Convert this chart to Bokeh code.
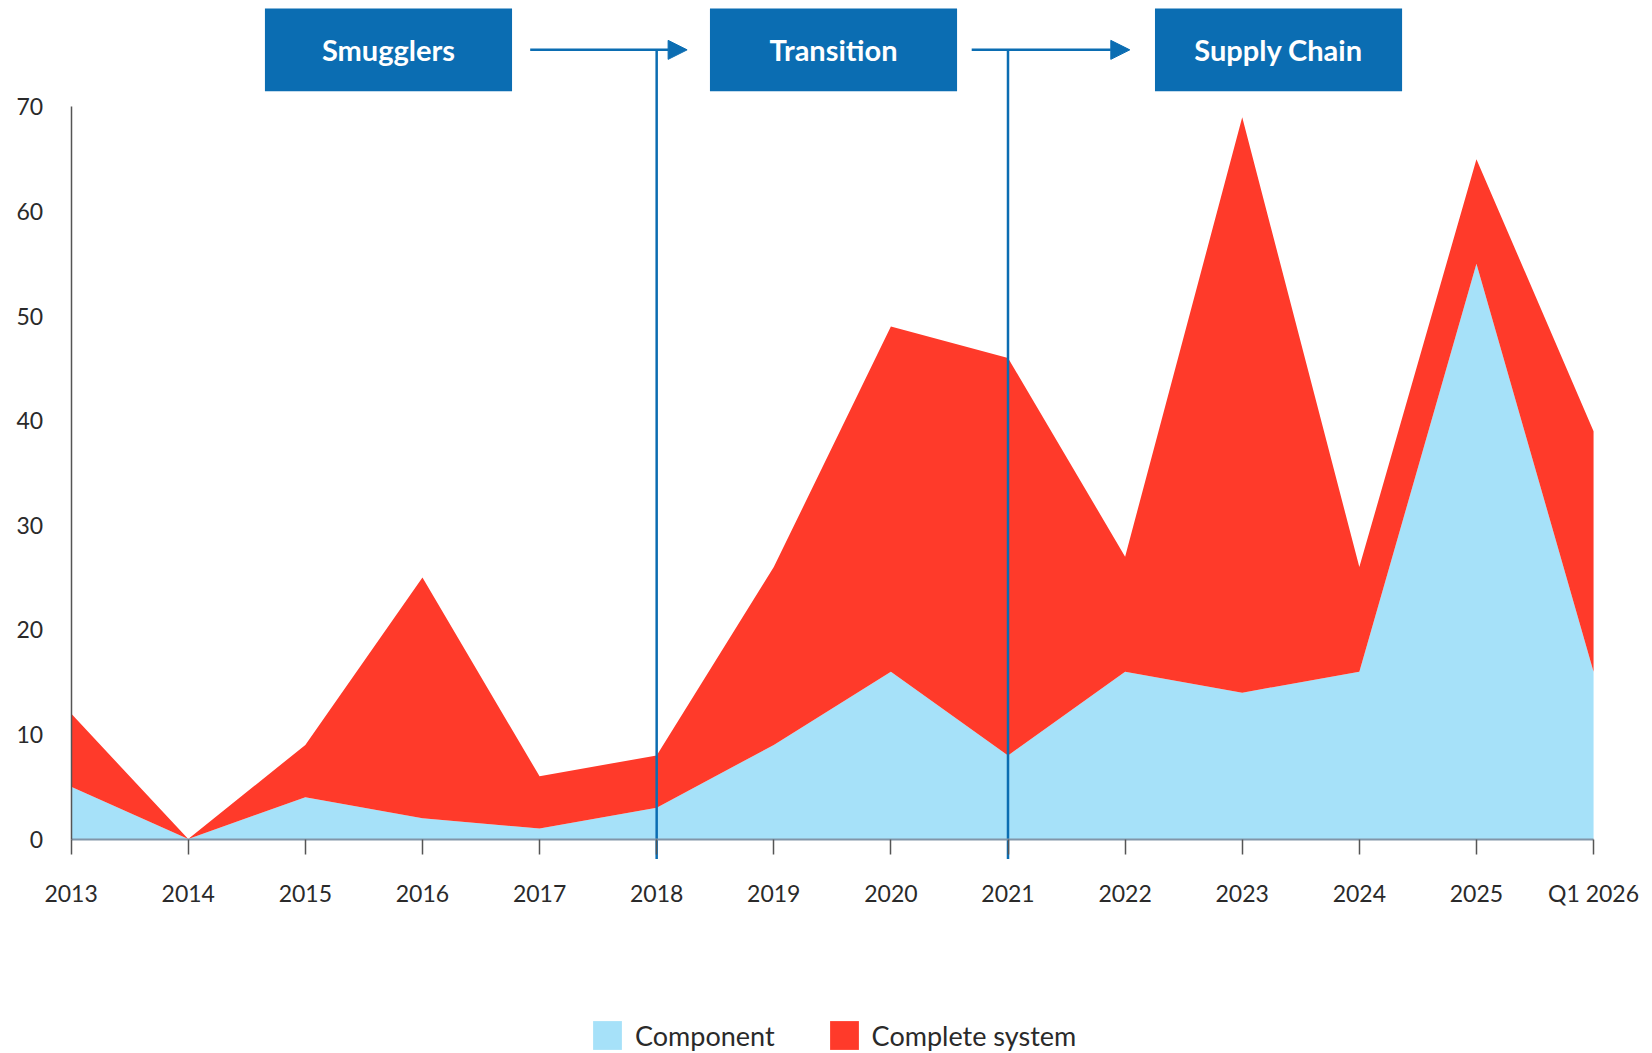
from bokeh.plotting import figure
from bokeh.models import (ColumnDataSource, Legend, LegendItem, LinearAxis, Range1d,
                          FixedTicker, Arrow, NormalHead)
from bokeh.embed import file_html
from bokeh.resources import INLINE
from bokeh.core.properties import value

# ---- data ----
categories = ["2013", "2014", "2015", "2016", "2017", "2018", "2019",
              "2020", "2021", "2022", "2023", "2024", "2025", "Q1 2026"]
component = [5, 0, 4, 2, 1, 3, 9, 16, 8, 16, 14, 16, 55, 16]
complete_system = [7, 0, 5, 23, 5, 5, 17, 33, 38, 11, 55, 10, 10, 23]
y_ticks = [0, 10, 20, 30, 40, 50, 60, 70]

phases = ["Smugglers", "Transition", "Supply Chain"]
phase_centers = [2.71, 6.51, 10.31]          # x positions (category index)
phase_breaks = [5, 8]                        # 2018, 2021
arrow_spans = [(3.92, 5.26), (7.69, 9.04)]

BLUE = "#0b6db2"
RED = "#ff3a2a"
LIGHT = "#a6e1f9"
FONT = "Lato"

xs = list(range(len(categories)))
stack_top = [c + s for c, s in zip(component, complete_system)]
src = ColumnDataSource(dict(x=xs, zero=[0] * len(xs), comp=component, top=stack_top))

p = figure(width=1644, height=1053, output_backend="svg", toolbar_location=None,
           x_range=Range1d(-0.603, 13.435), y_range=Range1d(-20.5, 80.17),
           min_border=0, x_axis_location=None, y_axis_location=None)
p.outline_line_color = None
p.grid.visible = False
p.background_fill_color = "white"

r_comp = p.varea(x="x", y1="zero", y2="comp", source=src, fill_color=LIGHT)
r_sys = p.varea(x="x", y1="comp", y2="top", source=src, fill_color=RED)

# axes
xaxis = LinearAxis(ticker=FixedTicker(ticks=xs), fixed_location=0, bounds=(0, len(xs) - 1),
                   major_label_overrides={i: c for i, c in enumerate(categories)})
xaxis.axis_line_color = "#8295a8"
xaxis.axis_line_width = 2
xaxis.major_tick_line_color = "#555555"
xaxis.major_tick_line_width = 1.5
xaxis.major_tick_out = 15
xaxis.major_tick_in = 0
xaxis.minor_tick_line_color = None
xaxis.major_label_standoff = 25
xaxis.major_label_text_font = FONT
xaxis.major_label_text_font_size = "23px"
xaxis.major_label_text_color = "#2a2a2a"
p.add_layout(xaxis, "below")

yaxis = LinearAxis(ticker=FixedTicker(ticks=y_ticks), bounds=(0, 70), fixed_location=0)
yaxis.axis_line_color = "#555555"
yaxis.axis_line_width = 1.5
yaxis.major_tick_line_color = None
yaxis.minor_tick_line_color = None
yaxis.major_label_standoff = 22
yaxis.major_label_text_font = FONT
yaxis.major_label_text_font_size = "23px"
yaxis.major_label_text_color = "#2a2a2a"
p.add_layout(yaxis, "left")

# phase divider lines
arrow_y = 75.45
for b in phase_breaks:
    p.segment(x0=[b], y0=[-1.9], x1=[b], y1=[arrow_y], line_color=BLUE, line_width=2.5)
for (a0, a1) in arrow_spans:
    p.add_layout(Arrow(x_start=a0, y_start=arrow_y, x_end=a1, y_end=arrow_y,
                       line_color=BLUE, line_width=2.5,
                       end=NormalHead(size=19, fill_color=BLUE, line_color=BLUE)))

# phase boxes
p.rect(x=phase_centers, y=[75.45] * 3, width=2.11, height=7.9,
       fill_color=BLUE, line_color=None)
p.text(x=phase_centers, y=[75.45] * 3, text=phases, text_align="center",
       text_baseline="middle", text_color="white", text_font=value(FONT),
       text_font_size="29px", text_font_style="bold")

legend = Legend(items=[LegendItem(label="Component", renderers=[r_comp]),
                       LegendItem(label="Complete system", renderers=[r_sys])],
                orientation="horizontal", location=(589, 0),
                glyph_width=36, glyph_height=36, label_text_font=FONT,
                label_text_font_size="27px", label_text_color="#2a2a2a",
                spacing=51, label_standoff=10, border_line_color=None,
                background_fill_alpha=0, margin=0, padding=0)
p.add_layout(legend, "center")

open("out.html", "w").write(file_html(p, INLINE))
